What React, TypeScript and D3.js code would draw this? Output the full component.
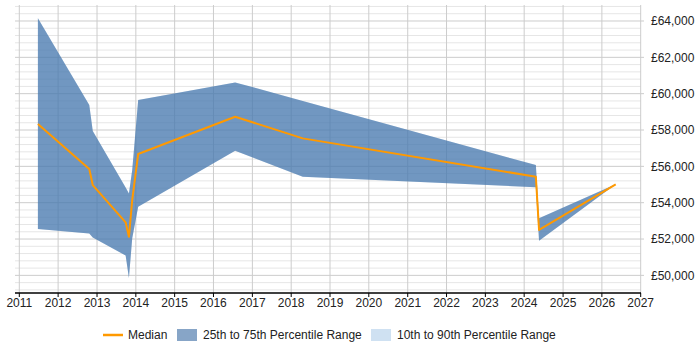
import React from "react";
import * as d3 from "d3";

// Observation dates and salary percentiles (GBP)
const dates = [
  "2011-06-25", "2012-10-20", "2012-11-22", "2013-09-27", "2013-10-28",
  "2013-11-28", "2014-01-23", "2016-07-23", "2018-04-20", "2024-04-20",
  "2024-05-20", "2026-05-11",
];
const p10 = [52550, 52310, 52080, 51100, 49850, 52050, 53780, 56860, 55430, 54850, 51910, 55010];
const p25 = [52550, 52310, 52080, 51100, 49850, 52050, 53780, 56860, 55430, 54850, 51910, 55010];
const median = [58330, 55850, 54970, 52920, 52120, 54150, 56680, 58730, 57540, 55430, 52500, 55010];
const p75 = [64150, 59380, 57950, 54840, 54500, 55800, 59650, 60620, 59600, 56070, 53140, 55010];
const p90 = [64150, 59380, 57950, 54840, 54500, 55800, 59650, 60620, 59600, 56070, 53140, 55010];

const yearTicks = d3.range(2011, 2028);
const salaryTicks = [50000, 52000, 54000, 56000, 58000, 60000, 62000, 64000];

const legendItems = ["Median", "25th to 75th Percentile Range", "10th to 90th Percentile Range"];

const W = 700;
const H = 350;
const plotLeft = 15;
const plotRight = 641;
const plotTop = 5;
const plotBottom = 293;

export default function App() {
  const parse = d3.timeParse("%Y-%m-%d");
  const rows = dates.map((d, i) => ({
    date: parse(d) as Date,
    p10: p10[i],
    p25: p25[i],
    med: median[i],
    p75: p75[i],
    p90: p90[i],
  }));

  const x = d3
    .scaleTime()
    .domain([new Date(2011, 0, 1), new Date(2027, 0, 1)])
    .range([19.3, 640.7]);
  const y = d3.scaleLinear().domain([49030, 64880]).range([plotBottom, plotTop]);

  const outer = d3
    .area<any>()
    .x((d) => x(d.date))
    .y0((d) => y(d.p10))
    .y1((d) => y(d.p90));
  const inner = d3
    .area<any>()
    .x((d) => x(d.date))
    .y0((d) => y(d.p25))
    .y1((d) => y(d.p75));
  const line = d3
    .line<any>()
    .x((d) => x(d.date))
    .y((d) => y(d.med));

  const minor = d3.range(49200, 64881, 400).filter((v) => v % 2000 !== 0);
  const fmt = (v: number) => "£" + d3.format(",")(v);
  const font = "'Liberation Sans', Arial, sans-serif";

  const legendY = 335;
  const legendX = [103, 177, 371];

  return (
    <svg width={W} height={H} style={{ position: "absolute", left: 0, top: 0 }} fontFamily={font}>
      <rect width={W} height={H} fill="#fff" />
      {/* minor horizontal grid */}
      {minor.map((v) => (
        <line key={"m" + v} x1={plotLeft} x2={plotRight} y1={y(v)} y2={y(v)} stroke="#e6e6e6" strokeWidth={1} />
      ))}
      {/* vertical year grid */}
      {yearTicks.map((yr) => {
        const px = x(new Date(yr, 0, 1));
        return <line key={"v" + yr} x1={px} x2={px} y1={plotTop} y2={plotBottom} stroke="#cccccc" strokeWidth={1} />;
      })}
      {/* major horizontal grid */}
      {salaryTicks.map((v) => (
        <line key={"M" + v} x1={plotLeft} x2={plotRight + 3} y1={y(v)} y2={y(v)} stroke="#cccccc" strokeWidth={1} />
      ))}

      <path d={outer(rows) as string} fill="rgb(160,195,230)" fillOpacity={0.5} />
      <path d={inner(rows) as string} fill="rgb(33,88,151)" fillOpacity={0.54} />
      <path d={line(rows) as string} fill="none" stroke="#ff9900" strokeWidth={2} strokeLinejoin="round" />

      {/* x axis */}
      <line x1={plotLeft} x2={plotRight} y1={plotBottom} y2={plotBottom} stroke="#000" strokeWidth={1.5} />
      {yearTicks.map((yr) => {
        const px = x(new Date(yr, 0, 1));
        return (
          <g key={"t" + yr}>
            <line x1={px} x2={px} y1={plotBottom} y2={plotBottom + 4} stroke="#000" strokeWidth={1} />
            <text x={px} y={307} textAnchor="middle" fontSize={12} fill="#222">
              {yr}
            </text>
          </g>
        );
      })}

      {/* y labels on the right */}
      {salaryTicks.map((v) => (
        <text key={"l" + v} x={651} y={y(v)} dy="0.35em" fontSize={12} fill="#222">
          {fmt(v)}
        </text>
      ))}

      {/* legend */}
      <line x1={legendX[0]} x2={legendX[0] + 20} y1={legendY} y2={legendY} stroke="#ff9900" strokeWidth={2.5} />
      <text x={legendX[0] + 25} y={legendY} dy="0.35em" fontSize={12} fill="#222">
        {legendItems[0]}
      </text>
      <rect x={legendX[1]} y={legendY - 6} width={20} height={12} fill="rgb(33,88,151)" fillOpacity={0.54} />
      <text x={legendX[1] + 26} y={legendY} dy="0.35em" fontSize={12} fill="#222">
        {legendItems[1]}
      </text>
      <rect x={legendX[2]} y={legendY - 6} width={20} height={12} fill="rgb(160,195,230)" fillOpacity={0.5} />
      <text x={legendX[2] + 26} y={legendY} dy="0.35em" fontSize={12} fill="#222">
        {legendItems[2]}
      </text>
    </svg>
  );
}
